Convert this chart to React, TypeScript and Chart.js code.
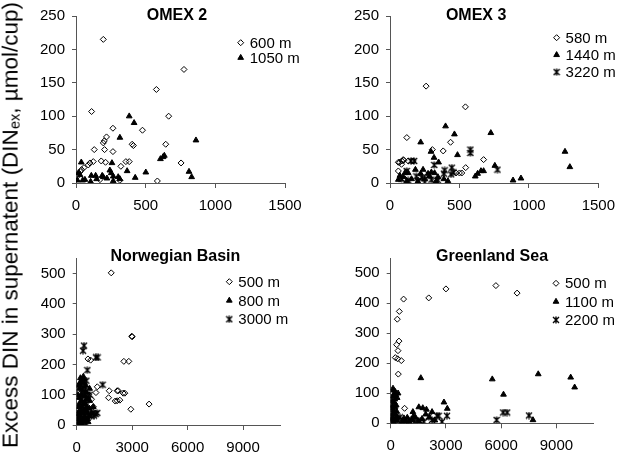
import React, { useEffect, useRef } from 'react';
import { Chart, registerables } from 'chart.js';
import { drawPoint } from 'chart.js/helpers';

Chart.register(...registerables);

const FONT = "'Liberation Sans', Arial, Helvetica, sans-serif";
const AXIS = '#555555';

// ---------- data ----------
const omex2_600 = [[196,215],[775,170],[577,140],[112,107],[665,100],[265,82],[477,79],[219,69],[203,63],[196,60],[403,58],[412,56],[644,58],[131,50],[205,50],[265,47],[124,32],[100,30],[88,27],[57,23],[40,20],[31,17],[181,33],[212,31],[358,32],[382,32],[322,25],[754,30],[584,3],[315,4],[172,5],[5,9]];
const omex2_1050 = [[382,100],[417,90],[315,68],[861,64],[634,41],[625,39],[606,36],[258,30],[38,31],[243,19],[253,15],[367,18],[501,16],[425,8],[811,17],[830,9],[17,15],[29,12],[48,4],[110,11],[105,2],[141,11],[188,11],[196,9],[222,7],[267,10],[267,3],[303,9],[315,6],[10,4],[64,5],[148,6]];

const omex3_580 = [[260,145],[543,114],[121,68],[436,61],[383,48],[305,50],[674,35],[545,23],[69,31],[83,28],[95,35],[131,33],[167,33],[60,31],[60,18],[476,15],[500,15],[517,15],[107,6],[202,4],[321,3],[85,33],[100,34]];
const omex3_1440 = [[400,85],[464,73],[726,75],[221,61],[295,47],[1260,47],[486,42],[317,38],[350,31],[1295,24],[755,26],[674,18],[655,18],[631,14],[614,10],[943,7],[886,4],[417,3],[183,20],[238,20],[221,14],[274,14],[298,16],[321,15],[131,15],[107,15],[71,11],[95,9],[155,6],[250,6],[345,9],[388,6],[286,10],[60,5],[120,3],[200,2],[330,2]];
const omex3_3220 = [[579,50],[579,45],[774,20],[319,27],[445,23],[457,16],[393,19],[174,33],[150,33],[388,14],[202,3],[250,1],[298,5],[345,4],[131,4],[83,6],[190,10],[440,13],[120,18],[280,12],[230,8]];

const norw_500 = [[1868,502],[3000,291],[2980,293],[2551,210],[2820,210],[611,218],[754,214],[1114,126],[1042,107],[1760,113],[2190,113],[2245,113],[2515,105],[2605,105],[1724,90],[2084,79],[2190,80],[2335,82],[3916,69],[2928,52],[300,30],[500,70],[650,100],[800,85],[900,60]];
const norw_800 = [[50,20],[80,35],[100,60],[120,90],[150,120],[180,140],[200,155],[220,130],[250,100],[270,80],[300,60],[320,40],[350,20],[380,10],[400,50],[420,75],[450,95],[480,110],[500,130],[520,85],[550,60],[580,40],[600,20],[620,10],[650,30],[680,55],[700,80],[100,10],[150,5],[200,30],[250,45],[300,115],[350,140],[400,125],[450,70],[500,45],[550,105],[600,90],[150,70],[220,15],[270,5],[330,95],[380,150],[430,30],[480,15],[700,120],[800,40],[900,60],[60,100],[90,130],[130,45],[280,150],[360,160]];
const norw_3000 = [[395,262],[341,245],[1042,223],[1132,223],[575,181],[1401,133],[521,146],[395,144],[1024,36],[1114,40],[934,31],[100,40],[200,80],[300,110],[350,70],[450,20],[600,50],[700,100],[800,30],[900,40],[250,15],[150,25],[500,5]];

const green_500 = [[700,414],[2066,418],[3000,448],[5712,459],[6862,434],[467,373],[359,347],[449,274],[323,262],[395,242],[251,219],[377,215],[575,209],[413,164],[754,50],[150,20],[300,10]];
const green_1100 = [[1635,151],[5515,147],[8011,164],[9772,153],[9987,120],[6125,96],[2892,70],[3072,49],[1527,54],[1742,51],[1940,46],[1204,38],[2245,38],[7724,11],[126,116],[50,10],[80,30],[100,60],[120,90],[150,110],[200,100],[220,80],[250,105],[280,95],[300,60],[320,40],[350,20],[100,20],[150,45],[200,70],[250,30],[300,10],[150,5],[80,75],[60,50],[350,85],[400,100],[120,15],[180,35],[230,55],[270,15],[720,17],[900,19],[1170,11],[1350,19],[1000,5],[1250,25],[1500,8],[1700,15],[1900,30],[2100,20],[2400,10],[600,5],[800,8]];
const green_2200 = [[5748,11],[6107,36],[6323,36],[7508,26],[3054,25],[2515,25],[2604,25],[2784,5],[2066,22],[2245,11],[1796,5],[100,5],[200,15],[300,25],[400,10],[500,20],[700,8],[900,5],[1100,12],[1300,4],[1600,8]];

const titles = ['OMEX 2', 'OMEX 3', 'Norwegian Basin', 'Greenland Sea'];
const labels2 = ['600 m', '1050 m'];
const labels3 = ['580 m', '1440 m', '3220 m'];
const labelsN = ['500 m', '800 m', '3000 m'];
const labelsG = ['500 m', '1100 m', '2200 m'];
const xTicksTop = [0, 500, 1000, 1500];
const yTicksTop = [0, 50, 100, 150, 200, 250];
const xTicksBottom = [0, 3000, 6000, 9000];
const yTicksBottom = [0, 100, 200, 300, 400, 500];
const yTitle = 'Excess DIN in supernatent (DIN';
const yTitleSub = 'ex';
const yTitleEnd = ', µmol/cup)';

// ---------- helpers ----------
const pts = (a: number[][]) => a.map(([x, y]) => ({ x, y }));

function makeStar(): HTMLCanvasElement {
  const c = document.createElement('canvas');
  c.width = 8; c.height = 8;
  const g = c.getContext('2d')!;
  g.strokeStyle = '#000';
  g.lineWidth = 1.4;
  g.beginPath();
  g.moveTo(1, 1); g.lineTo(7, 7);
  g.moveTo(7, 1); g.lineTo(1, 7);
  g.moveTo(4, 0.5); g.lineTo(4, 7.5);
  g.stroke();
  return c;
}

const decoPlugin = {
  id: 'deco',
  afterDraw(chart: any, _args: any, o: any) {
    const { ctx, chartArea: a } = chart;
    ctx.save();
    ctx.fillStyle = '#000';
    ctx.font = `bold 16px ${FONT}`;
    ctx.textAlign = 'center';
    ctx.textBaseline = 'middle';
    ctx.fillText(o.title, (a.left + a.right) / 2 + o.titleDX, a.top + o.titleDY);
    chart.data.datasets.forEach((ds: any, i: number) => {
      const x = a.right + o.legDX;
      const y = a.top + o.legDY + i * o.legGap;
      ctx.fillStyle = ds.backgroundColor;
      ctx.strokeStyle = ds.borderColor;
      ctx.lineWidth = ds.borderWidth;
      drawPoint(ctx, { pointStyle: ds.pointStyle, radius: ds.pointRadius, rotation: 0, borderWidth: ds.borderWidth } as any, x, y);
      ctx.fillStyle = '#000';
      ctx.font = `15px ${FONT}`;
      ctx.textAlign = 'left';
      ctx.textBaseline = 'middle';
      ctx.fillText(ds.label, x + 9, y + 1);
    });
    ctx.restore();
  },
};

type PanelCfg = {
  left: number; top: number; w: number; h: number;
  yW: number; padR: number; padT: number; padB: number;
  xMax: number; xTicks: number[]; yMax: number; yTicks: number[];
  title: string; titleDX: number; titleDY: number;
  legDX: number; legDY: number; legGap: number;
  series: { label: string; data: number[][]; kind: string }[];
};

function Panel({ cfg }: { cfg: PanelCfg }) {
  const ref = useRef<HTMLCanvasElement>(null);
  useEffect(() => {
    const star = makeStar();
    const style = (k: string) => {
      if (k === 'diamond') return { pointStyle: 'rectRot', pointRadius: 3, backgroundColor: 'rgba(255,255,255,0)', borderColor: '#000', borderWidth: 1 };
      if (k === 'triangle') return { pointStyle: 'triangle', pointRadius: 3.3, backgroundColor: '#000', borderColor: '#000', borderWidth: 1 };
      return { pointStyle: star, pointRadius: 4, backgroundColor: '#000', borderColor: '#000', borderWidth: 1 };
    };
    const tickFont = { size: 15, family: FONT };
    const chart = new Chart(ref.current!, {
      type: 'scatter',
      data: {
        datasets: cfg.series.map((s) => ({ label: s.label, data: pts(s.data), ...style(s.kind) })) as any,
      },
      options: {
        animation: false,
        responsive: false,
        events: [],
        layout: { padding: { left: 0, right: cfg.padR, top: cfg.padT, bottom: cfg.padB } },
        plugins: {
          legend: { display: false },
          tooltip: { enabled: false },
          deco: { title: cfg.title, titleDX: cfg.titleDX, titleDY: cfg.titleDY, legDX: cfg.legDX, legDY: cfg.legDY, legGap: cfg.legGap },
        } as any,
        scales: {
          x: {
            type: 'linear', min: 0, max: cfg.xMax,
            ticks: { font: tickFont, color: '#000', padding: 9, maxRotation: 0, autoSkip: false, callback: (v: any) => String(v) },
            grid: { drawOnChartArea: false, drawTicks: true, tickLength: 5, color: AXIS },
            border: { display: true, color: AXIS, width: 1 },
            afterBuildTicks: (s: any) => { s.ticks = cfg.xTicks.map((v) => ({ value: v })); },
            afterFit: (s: any) => { s.height = 30; },
          },
          y: {
            type: 'linear', min: 0, max: cfg.yMax,
            ticks: { font: tickFont, color: '#000', padding: 7, autoSkip: false, callback: (v: any) => String(v) },
            grid: { drawOnChartArea: false, drawTicks: true, tickLength: 4, color: AXIS },
            border: { display: true, color: AXIS, width: 1 },
            afterBuildTicks: (s: any) => { s.ticks = cfg.yTicks.map((v) => ({ value: v })); },
            afterFit: (s: any) => { s.width = cfg.yW; },
          },
        } as any,
      },
      plugins: [decoPlugin],
    });
    return () => chart.destroy();
  }, [cfg]);
  return (
    <canvas
      ref={ref}
      width={cfg.w}
      height={cfg.h}
      style={{ position: 'absolute', left: cfg.left, top: cfg.top, width: cfg.w, height: cfg.h }}
    />
  );
}

const panels: PanelCfg[] = [
  {
    left: 16, top: 0, w: 304, h: 225, yW: 60, padR: 35, padT: 15, padB: 12,
    xMax: 1500, xTicks: xTicksTop, yMax: 250, yTicks: yTicksTop,
    title: titles[0], titleDX: -3.5, titleDY: 0, legDX: -44.3, legDY: 26.7, legGap: 15,
    series: [
      { label: labels2[0], data: omex2_600, kind: 'diamond' },
      { label: labels2[1], data: omex2_1050, kind: 'triangle' },
    ],
  },
  {
    left: 330, top: 0, w: 294, h: 225, yW: 60, padR: 24, padT: 15, padB: 12,
    xMax: 1500, xTicks: xTicksTop, yMax: 250, yTicks: yTicksTop,
    title: titles[1], titleDX: -18, titleDY: 0, legDX: -41.7, legDY: 21.7, legGap: 17.2,
    series: [
      { label: labels3[0], data: omex3_580, kind: 'diamond' },
      { label: labels3[1], data: omex3_1440, kind: 'triangle' },
      { label: labels3[2], data: omex3_3220, kind: 'star' },
    ],
  },
  {
    left: 16, top: 233, w: 304, h: 233, yW: 60.7, padR: 40, padT: 25.3, padB: 11,
    xMax: 11000, xTicks: xTicksBottom, yMax: 550, yTicks: yTicksBottom,
    title: titles[2], titleDX: -3, titleDY: -1.8, legDX: -50.7, legDY: 23.4, legGap: 18.8,
    series: [
      { label: labelsN[0], data: norw_500, kind: 'diamond' },
      { label: labelsN[1], data: norw_800, kind: 'triangle' },
      { label: labelsN[2], data: norw_3000, kind: 'star' },
    ],
  },
  {
    left: 330, top: 233, w: 294, h: 233, yW: 60.7, padR: 30.7, padT: 25.3, padB: 12.7,
    xMax: 11000, xTicks: xTicksBottom, yMax: 550, yTicks: yTicksBottom,
    title: titles[3], titleDX: 0, titleDY: -1.8, legDX: -37.3, legDY: 25, legGap: 18.3,
    series: [
      { label: labelsG[0], data: green_500, kind: 'diamond' },
      { label: labelsG[1], data: green_1100, kind: 'triangle' },
      { label: labelsG[2], data: green_2200, kind: 'star' },
    ],
  },
];

export default function App() {
  return (
    <div style={{ position: 'absolute', left: 0, top: 0, width: 624, height: 466, background: '#fff', overflow: 'hidden' }}>
      {panels.map((p, i) => <Panel key={i} cfg={p} />)}
      <div
        style={{
          position: 'absolute', left: 11, top: 225,
          transform: 'translate(-50%, -50%) rotate(-90deg)',
          whiteSpace: 'nowrap', fontFamily: FONT, fontSize: 22.5, color: '#000', lineHeight: 1,
        }}
      >
        {yTitle}<sub style={{ fontSize: '0.65em', verticalAlign: '-0.15em' }}>{yTitleSub}</sub>{yTitleEnd}
      </div>
    </div>
  );
}
